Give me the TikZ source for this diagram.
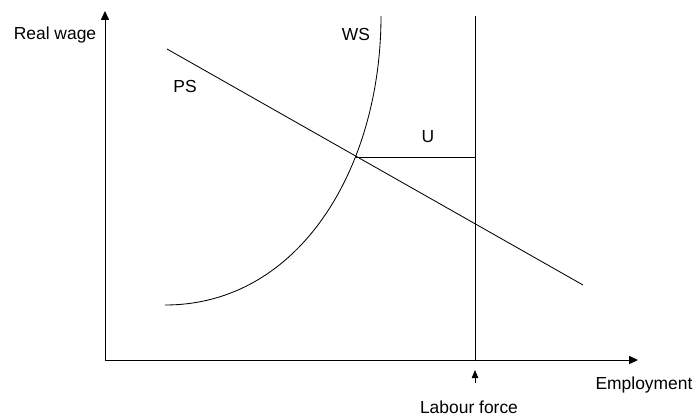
\documentclass[tikz,border=0pt]{standalone}
\usepackage{fontspec}
\setmainfont{Liberation Sans}
\usetikzlibrary{arrows.meta,positioning}

\begin{document}
\begin{tikzpicture}[x=0.025cm, y=0.025cm,
  lab/.style={font=\fontsize{12.4}{14}\selectfont, inner sep=0pt},
  ln/.style={line width=0.6pt},
  axis/.style={line width=0.6pt, -{Triangle[length=2.2mm, width=2mm]}},
  tick/.style={line width=0.6pt, -{Triangle[length=2mm, width=1.6mm]}}]
  \useasboundingbox (0,0) rectangle (698,417);
  \coordinate (O) at (105,57);
  \coordinate (ytop) at (105,406);
  \coordinate (xend) at (638,57);
  \draw[axis] (O) -- (ytop);
  \draw[axis] (O) -- (xend);
  \coordinate (lftop) at (475,401);
  \coordinate (lfbot) at (475,57);
  \draw[ln] (lftop) -- (lfbot);
  \coordinate (lfa) at (475,34);
  \coordinate (lfb) at (475,47);
  \draw[tick] (lfa) -- (lfb);
  \coordinate (ps1) at (167,368);
  \coordinate (ps2) at (583,132);
  \draw[ln] (ps1) -- (ps2);
  \coordinate (ws1) at (165,112);
  \coordinate (ws2) at (381,401);
  \draw[ln] (ws1) .. controls (300,112) and (381,250) .. (ws2);
  \coordinate (E) at (356,260);
  \coordinate (U1) at (475,260);
  \draw[ln] (E) -- (U1);
  \node[lab] (rw) at (55,382) {Real wage};
  \node[lab] (PS) at (185,331) {PS};
  \node[lab] (WS) at (356,383) {WS};
  \node[lab] (U) at (428,280) {U};
  \node[lab] (emp) at (644,32) {Employment};
  \node[lab] (lf) at (469,10) {Labour force};
\end{tikzpicture}
\end{document}
